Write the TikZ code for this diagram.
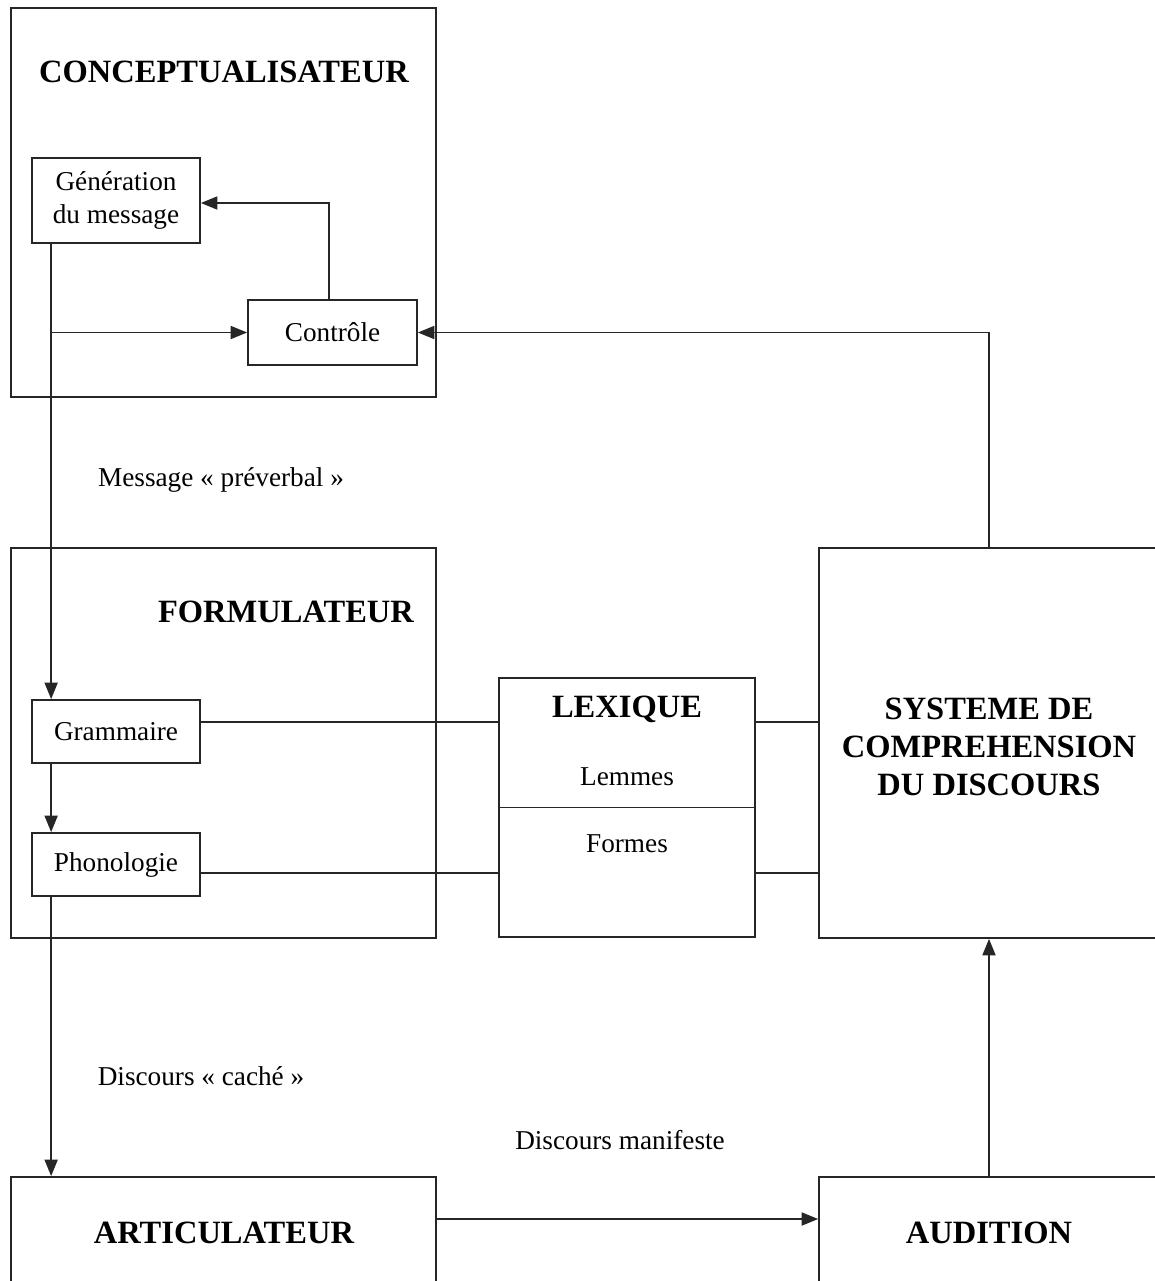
\documentclass[tikz,border=0pt]{standalone}
\usepackage{fontspec}
\setmainfont{Liberation Serif}
\usetikzlibrary{arrows.meta}
\tikzset{
  box/.style={draw=black!85, line width=1pt, inner sep=0pt, rectangle},
  title/.style={font=\fontsize{18.5}{21.5}\selectfont\bfseries, align=center, inner sep=0pt},
  txt/.style={font=\fontsize{15.5}{19}\selectfont, align=center, inner sep=0pt},
  conn/.style={draw=black!85, line width=1pt},
  arr/.style={conn, -{Triangle[length=0.33cm, width=0.26cm]}}
}
\begin{document}
\begin{tikzpicture}[x=0.02cm, y=-0.02cm]
\clip (0,0) rectangle (1155,1281);
\fill[white] (0,0) rectangle (1155,1281);
% big boxes
\node[box, minimum width=8.5cm, minimum height=7.78cm] (concept) at (223.5,202.5) {};
\node[title] (concepttitle) at (224,72) {CONCEPTUALISATEUR};
\node[box, minimum width=8.5cm, minimum height=7.8cm] (formul) at (223.5,743) {};
\node[title] (formultitle) at (286,612) {FORMULATEUR};
\node[box, minimum width=7.12cm, minimum height=7.8cm] (sys) at (997,743) {};
\node[title] (systxt) at (989,747) {SYSTEME DE\\COMPREHENSION\\DU DISCOURS};
\node[box, minimum width=8.5cm, minimum height=2.46cm] (art) at (223.5,1238.5) {};
\node[title] (arttxt) at (224,1233) {ARTICULATEUR};
\node[box, minimum width=7.12cm, minimum height=2.46cm] (aud) at (997,1238.5) {};
\node[title] (audtxt) at (989,1233) {AUDITION};
% small boxes
\node[box, txt, minimum width=3.36cm, minimum height=1.70cm] (gen) at (116,200.5) {Génération\\du message};
\node[box, txt, minimum width=3.38cm, minimum height=1.30cm] (ctrl) at (332.5,332.5) {Contrôle};
\node[box, txt, minimum width=3.36cm, minimum height=1.26cm] (gram) at (116,731.5) {Grammaire};
\node[box, txt, minimum width=3.36cm, minimum height=1.26cm] (phon) at (116,864.5) {Phonologie};
% lexicon
\node[box, minimum width=5.12cm, minimum height=5.18cm] (lex) at (627,807.5) {};
\draw[conn] (lex.west) -- (lex.east);
\node[title] (lextitle) at (627,709) {LEXIQUE};
\node[txt] (lem) at (627,777) {Lemmes};
\node[txt] (form) at (627,844) {Formes};
% labels
\node[txt] (msg) at (221,480) {Message «~préverbal~»};
\node[txt] (cache) at (201,1076) {Discours «~caché~»};
\node[txt] (manif) at (620,1140) {Discours manifeste};
% coordinates
\coordinate (genout) at ([xshift=0.4cm]gen.south west);
\coordinate (gramin) at ([xshift=0.4cm]gram.north west);
\coordinate (gramout) at ([xshift=0.4cm]gram.south west);
\coordinate (phonin) at ([xshift=0.4cm]phon.north west);
\coordinate (phonout) at ([xshift=0.4cm]phon.south west);
\coordinate (ctrltop) at ([xshift=-0.07cm]ctrl.north);
\coordinate (gramr) at ([yshift=0.19cm]gram.east);
\coordinate (phonr) at ([yshift=-0.17cm]phon.east);
\coordinate (artr) at ([yshift=0.39cm]art.east);
% connectors
\draw[arr] (genout) -- (gramin);
\draw[arr] (genout |- ctrl.west) -- (ctrl.west);
\draw[arr] (ctrltop) |- ([yshift=-0.05cm]gen.east);
\draw[arr] (systxt |- sys.north) |- (ctrl.east);
\draw[arr] (gramout) -- (phonin);
\draw[arr] (phonout) -- (phonout |- art.north);
\draw[conn] (gramr) -- (gramr -| lex.west);
\draw[conn] (gramr -| lex.east) -- (gramr -| sys.west);
\draw[conn] (phonr) -- (phonr -| lex.west);
\draw[conn] (phonr -| lex.east) -- (phonr -| sys.west);
\draw[arr] (artr) -- (artr -| aud.west);
\draw[arr] (audtxt |- aud.north) -- (audtxt |- sys.south);
\end{tikzpicture}
\end{document}
